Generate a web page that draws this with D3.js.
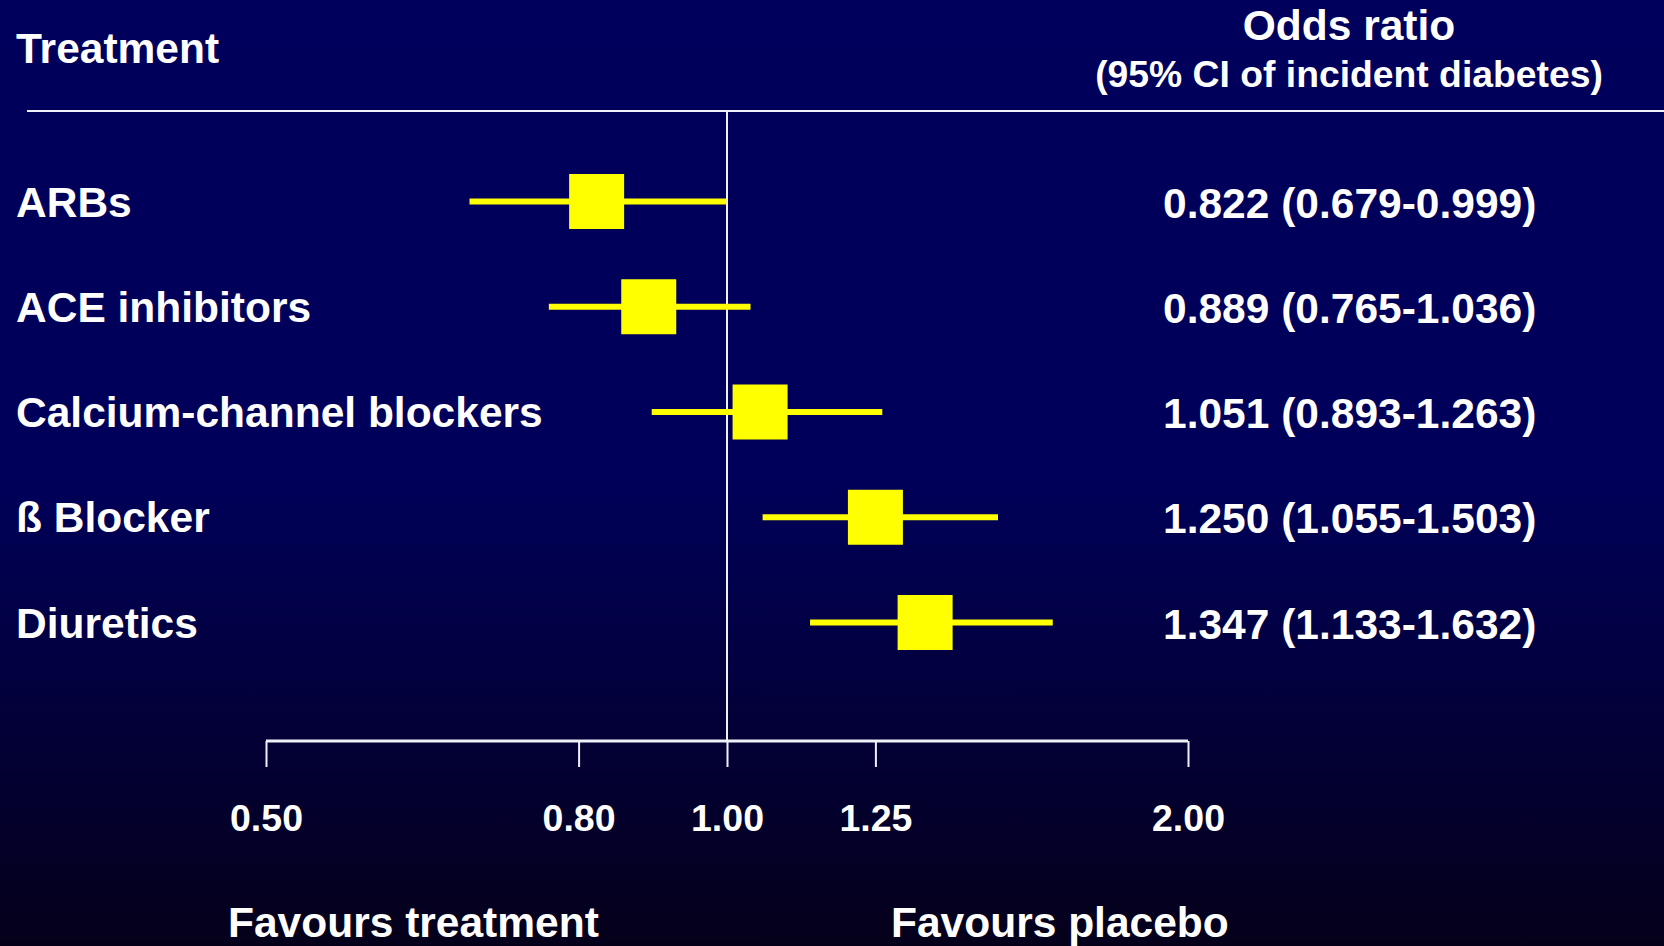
<!DOCTYPE html>
<html>
<head>
<meta charset="utf-8">
<script src="https://cdn.jsdelivr.net/npm/d3@7"></script>
<style>
  html, body { margin: 0; padding: 0; background: #000058; }
  svg { display: block; }
  text { font-family: "Liberation Sans", Arial, sans-serif; font-weight: bold; fill: #ffffff; }
</style>
</head>
<body>
<svg id="chart" width="1664" height="946"></svg>
<script>
// Forest plot: odds ratio of incident diabetes by antihypertensive class
const treatments = ["ARBs", "ACE inhibitors", "Calcium-channel blockers", "\u00df Blocker", "Diuretics"];
const oddsRatio = [0.822, 0.889, 1.051, 1.250, 1.347];
const ciLower   = [0.679, 0.765, 0.893, 1.055, 1.133];
const ciUpper   = [0.999, 1.036, 1.263, 1.503, 1.632];
const tickValues = [0.50, 0.80, 1.00, 1.25, 2.00];
const tickLabels = ["0.50", "0.80", "1.00", "1.25", "2.00"];

const W = 1664, H = 946;
const svg = d3.select("#chart");

// background gradient: navy fading to near-black at the bottom
const defs = svg.append("defs");
const grad = defs.append("linearGradient")
  .attr("id", "bg").attr("x1", 0).attr("y1", 0).attr("x2", 0).attr("y2", 1);
grad.append("stop").attr("offset", "0%").attr("stop-color", "#00005c");
grad.append("stop").attr("offset", "50%").attr("stop-color", "#00005a");
grad.append("stop").attr("offset", "100%").attr("stop-color", "#05001a");
svg.append("rect").attr("width", W).attr("height", H).attr("fill", "url(#bg)");

// scales
const x = d3.scaleLog().domain([0.5, 2]).range([266, 1188]);
const y = d3.scalePoint().domain(treatments).range([201.5, 622.5]);

const axisY = 741;
const headerY = 111;

// header
svg.append("text").attr("x", 16).attr("y", 63)
  .style("font-size", "42.5px").text("Treatment");
svg.append("text").attr("x", 1349).attr("y", 40).attr("text-anchor", "middle")
  .style("font-size", "42.5px").text("Odds ratio");
svg.append("text").attr("x", 1349).attr("y", 87).attr("text-anchor", "middle")
  .style("font-size", "37.3px").text("(95% CI of incident diabetes)");

// header rule
svg.append("line")
  .attr("x1", 27).attr("x2", W).attr("y1", headerY).attr("y2", headerY)
  .attr("stroke", "#f0f0f8").attr("stroke-width", 2);

// line of no effect
svg.append("line")
  .attr("x1", x(1)).attr("x2", x(1)).attr("y1", headerY).attr("y2", axisY)
  .attr("stroke", "#f0f0f8").attr("stroke-width", 2);

// x axis with downward ticks
const axis = d3.axisBottom(x)
  .tickValues(tickValues)
  .tickSize(26)
  .tickPadding(37.5)
  .tickFormat((d, i) => tickLabels[i]);
const gAxis = svg.append("g").attr("transform", `translate(0,${axisY})`).call(axis);
gAxis.select(".domain").attr("stroke", "#f0f0f8").attr("stroke-width", 3)
  .attr("d", `M${x(0.5)},0H${x(2)}`);
gAxis.selectAll(".tick line").attr("stroke", "#f0f0f8").attr("stroke-width", 2);
gAxis.selectAll(".tick text")
  .attr("fill", "#ffffff")
  .style("font-size", "37.5px")
  .style("font-family", "'Liberation Sans', Arial, sans-serif")
  .style("font-weight", "bold");

// rows
const rows = treatments.map((t, i) => ({
  name: t, or: oddsRatio[i], lo: ciLower[i], hi: ciUpper[i]
}));

const g = svg.append("g");
const box = 55;

g.selectAll("line.ci").data(rows).join("line")
  .attr("class", "ci")
  .attr("x1", d => x(d.lo)).attr("x2", d => x(d.hi))
  .attr("y1", d => y(d.name)).attr("y2", d => y(d.name))
  .attr("stroke", "#ffff00").attr("stroke-width", 6);

g.selectAll("rect.or").data(rows).join("rect")
  .attr("class", "or")
  .attr("x", d => x(d.or) - box / 2).attr("y", d => y(d.name) - box / 2)
  .attr("width", box).attr("height", box)
  .attr("fill", "#ffff00");

g.selectAll("text.label").data(rows).join("text")
  .attr("class", "label")
  .attr("x", 16).attr("y", d => y(d.name) + 15)
  .style("font-size", "42.5px")
  .text(d => d.name);

g.selectAll("text.value").data(rows).join("text")
  .attr("class", "value")
  .attr("x", 1163).attr("y", d => y(d.name) + 16)
  .style("font-size", "42.5px")
  .text(d => `${d.or.toFixed(3)} (${d.lo.toFixed(3)}-${d.hi.toFixed(3)})`);

// direction labels
svg.append("text").attr("x", 228).attr("y", 937)
  .style("font-size", "42.5px").text("Favours treatment");
svg.append("text").attr("x", 891).attr("y", 937)
  .style("font-size", "42.5px").text("Favours placebo");
</script>
</body>
</html>
